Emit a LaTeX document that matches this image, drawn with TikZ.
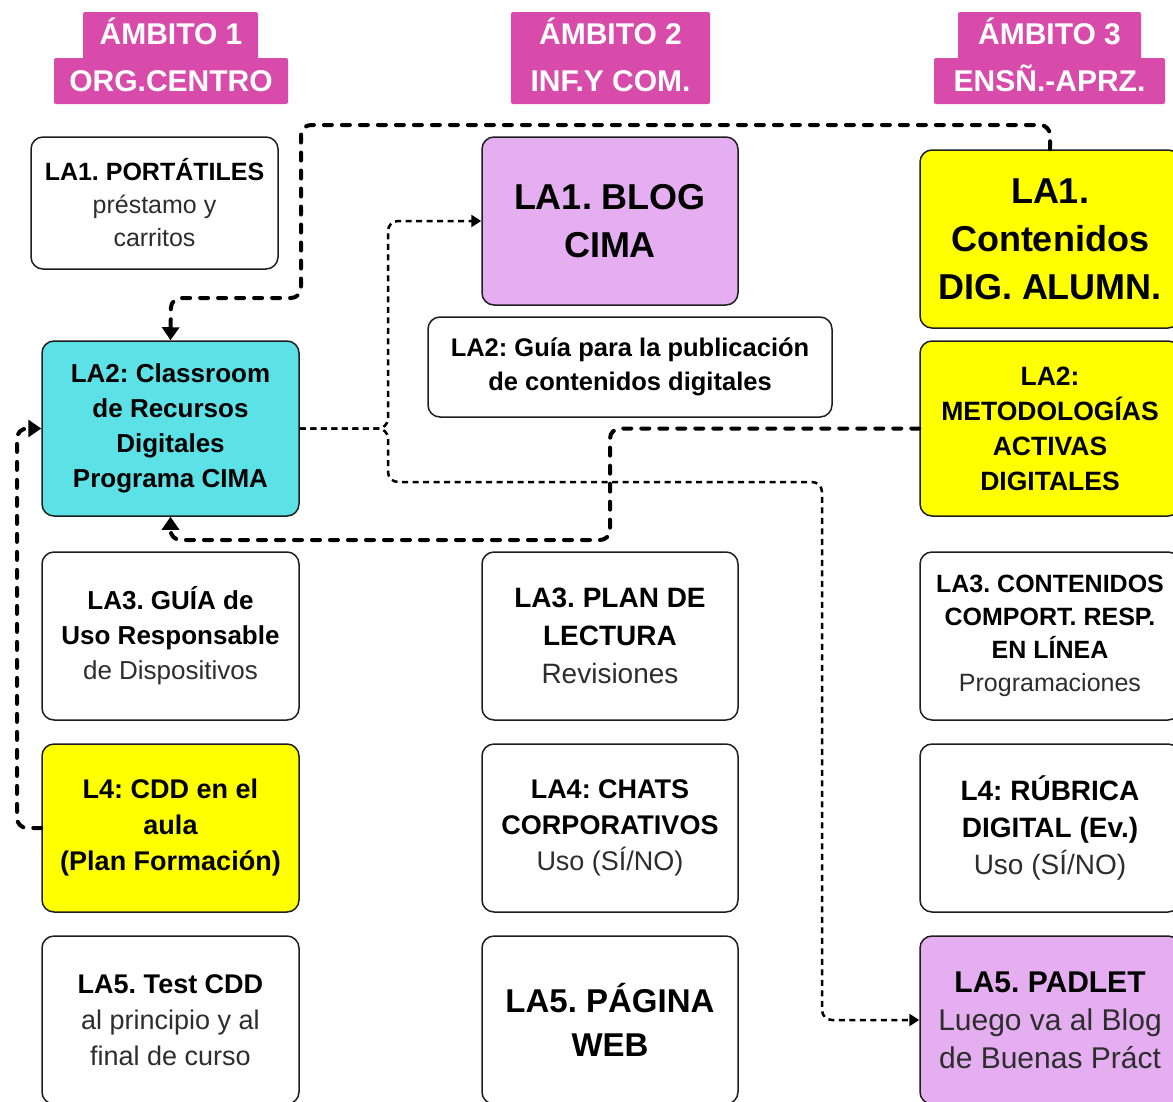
\documentclass[tikz,border=0pt]{standalone}
\usepackage{fontspec}
\setmainfont{Liberation Sans}
\usetikzlibrary{arrows.meta}
\definecolor{magc}{RGB}{217,75,170}
\definecolor{cyanc}{RGB}{92,225,230}
\definecolor{yelc}{RGB}{255,255,0}
\definecolor{lilc}{RGB}{228,174,240}
\definecolor{regc}{RGB}{45,45,45}
\definecolor{edgec}{RGB}{30,30,30}
\newcommand\myfs[2]{\fontsize{#1}{#2}\selectfont}
\newcommand\rg[1]{{\mdseries\color{regc}#1}}
\frenchspacing
\tikzset{
  box/.style={draw=edgec, line width=1.5pt, rounded corners=12pt, align=center, inner sep=0pt, text=black, fill=white},
  hdr/.style={fill=magc, rounded corners=2pt, inner sep=0pt},
  hdrtxt/.style={text=white, font=\myfs{30}{36}\bfseries, inner sep=0pt, anchor=base},
  thickdash/.style={line width=4pt, dash pattern=on 8pt off 10pt, line cap=round, line join=round, rounded corners=10pt},
  thindash/.style={line width=2.5pt, dash pattern=on 6pt off 4.5pt, line join=round, rounded corners=10pt},
  bigtip/.style={-{Triangle[length=13pt,width=17pt]}},
  smalltip/.style={-{Triangle[length=10pt,width=12pt]}}
}
\begin{document}
\begin{tikzpicture}[x=1pt,y=-1pt]
\useasboundingbox (0,0) rectangle (1173,1101);
\clip (0,0) rectangle (1173,1101);
\fill[white] (0,0) rectangle (1173,1101);

% headers
\fill[hdr] (83,12) rectangle (258,62);
\fill[hdr] (54,58) rectangle (288,104);
\node[hdrtxt] (h1a) at (171,44) {ÁMBITO 1};
\node[hdrtxt] (h1b) at (171,91) {ORG.CENTRO};
\fill[hdr] (511,12) rectangle (710,104);
\node[hdrtxt] (h2a) at (610.5,44) {ÁMBITO 2};
\node[hdrtxt] (h2b) at (610.5,91) {INF.Y COM.};
\fill[hdr] (958,12) rectangle (1141,62);
\fill[hdr] (934,58) rectangle (1165,104);
\node[hdrtxt] (h3a) at (1049.5,44) {ÁMBITO 3};
\node[hdrtxt] (h3b) at (1049.5,91) {ENSÑ.-APRZ.};

% column 1
\node[box, minimum width=247pt, minimum height=132pt, font=\myfs{25}{33}\bfseries] (p1) at (154.5,203) {LA1. PORTÁTILES\\\rg{préstamo y}\\\rg{carritos}};
\node[box, fill=cyanc, minimum width=257pt, minimum height=175pt, font=\myfs{26}{35}\bfseries] (cls) at (170.5,428.5) {LA2: Classroom\\de Recursos\\Digitales\\Programa CIMA};
\node[box, minimum width=257pt, minimum height=168pt, font=\myfs{26}{35}\bfseries] (guia) at (170.5,636) {LA3. GUÍA de\\Uso Responsable\\\rg{de Dispositivos}};
\node[box, fill=yelc, minimum width=257pt, minimum height=168pt, font=\myfs{27}{36}\bfseries] (cdd) at (170.5,828) {L4: CDD en el\\aula\\(Plan Formación)};
\node[box, minimum width=257pt, minimum height=168pt, font=\myfs{27}{36}\bfseries] (test) at (170.5,1020) {LA5. Test CDD\\\rg{al principio y al}\\\rg{final de curso}};

% column 2
\node[box, fill=lilc, minimum width=256pt, minimum height=168pt, font=\myfs{36}{48}\bfseries] (blog) at (610,221) {LA1. BLOG\\CIMA};
\node[box, minimum width=404pt, minimum height=100pt, font=\myfs{25.5}{34}\bfseries] (pub) at (630,367) {LA2: Guía para la publicación\\de contenidos digitales};
\node[box, minimum width=256pt, minimum height=168pt, font=\myfs{28}{38}\bfseries] (plan) at (610,636) {LA3. PLAN DE\\LECTURA\\\rg{Revisiones}};
\node[box, minimum width=256pt, minimum height=168pt, font=\myfs{27}{36}\bfseries] (chats) at (610,828) {LA4: CHATS\\CORPORATIVOS\\\rg{Uso (SÍ/NO)}};
\node[box, minimum width=256pt, minimum height=168pt, font=\myfs{33}{44}\bfseries] (web) at (610,1020) {LA5. PÁGINA\\WEB};

% column 3
\node[box, fill=yelc, minimum width=260pt, minimum height=178pt, font=\myfs{36}{48}\bfseries] (c1) at (1050,239) {LA1.\\Contenidos\\DIG. ALUMN.};
\node[box, fill=yelc, minimum width=260pt, minimum height=175pt, font=\myfs{26.5}{35}\bfseries] (met) at (1050,428.5) {LA2:\\METODOLOGÍAS\\ACTIVAS\\DIGITALES};
\node[box, minimum width=260pt, minimum height=168pt, font=\myfs{25}{33}\bfseries] (cont) at (1050,636) {LA3. CONTENIDOS\\COMPORT. RESP.\\EN LÍNEA\\\rg{Programaciones}};
\node[box, minimum width=260pt, minimum height=168pt, font=\myfs{28}{37}\bfseries] (rub) at (1050,828) {L4: RÚBRICA\\DIGITAL (Ev.)\\\rg{Uso (SÍ/NO)}};
\node[box, fill=lilc, minimum width=260pt, minimum height=168pt, font=\myfs{30}{38}\bfseries] (pad) at (1050,1020) {LA5. PADLET\\\rg{Luego va al Blog}\\\rg{de Buenas Práct}};

% connectors
\draw[thickdash, bigtip] (c1.north) |- (301,125) |- (171,298) -- (cls.north);
\draw[thindash, smalltip] (cls.east) -| (388,221) -- (blog.west);
\draw[thindash, smalltip] (cls.east) -| (388,482) -| (822,1020) -- (pad.west);
\draw[thickdash, bigtip] (met.west) -| (610,540) -| (cls.south);
\draw[thickdash, bigtip] (cdd.west) -| (17,428.5) -- (cls.west);
\end{tikzpicture}
\end{document}
